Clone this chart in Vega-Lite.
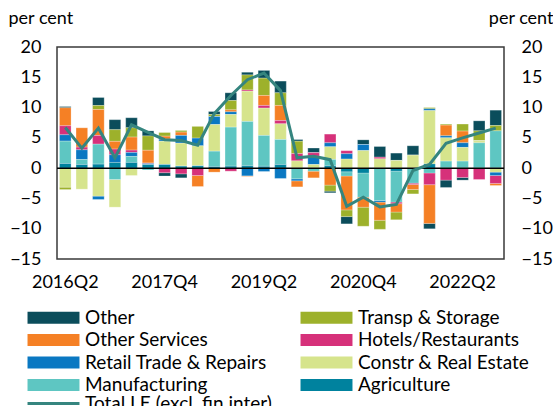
{
  "$schema": "https://vega.github.io/schema/vega-lite/v6.json",
  "width": 447,
  "height": 212,
  "autosize": {"type": "none"},
  "padding": {"left": 57, "top": 47, "right": 49, "bottom": 147},
  "config": {
    "font": "Lato",
    "view": {"stroke": "#3a3a3a", "strokeWidth": 1.5},
    "axis": {"labelFont": "Lato", "titleFont": "Lato", "labelColor": "black", "titleColor": "black", "grid": false}
  },
  "datasets": {
    "sectors": [
      {"q": "2016Q2", "Agriculture": 0.77, "Manufacturing": 3.69, "Constr & Real Estate": -3.14, "Retail Trade & Repairs": 1.05, "Hotels/Restaurants": 1.49, "Other Services": 2.97, "Transp & Storage": -0.39, "Other": 0.2},
      {"q": "2016Q3", "Agriculture": 0.6, "Manufacturing": 0.83, "Constr & Real Estate": -3.47, "Retail Trade & Repairs": 1.6, "Hotels/Restaurants": 0.44, "Other Services": 3.19, "Transp & Storage": 0, "Other": 0},
      {"q": "2016Q4", "Agriculture": 0.66, "Manufacturing": 3.3, "Constr & Real Estate": -4.62, "Retail Trade & Repairs": -0.55, "Hotels/Restaurants": 1.43, "Other Services": 4.29, "Transp & Storage": 0.66, "Other": 1.32},
      {"q": "2017Q1", "Agriculture": 0.94, "Manufacturing": -1.87, "Constr & Real Estate": -4.57, "Retail Trade & Repairs": 1.27, "Hotels/Restaurants": 0.94, "Other Services": 1.27, "Transp & Storage": 1.93, "Other": 1.65},
      {"q": "2017Q2", "Agriculture": 0.94, "Manufacturing": 0.99, "Constr & Real Estate": -1.21, "Retail Trade & Repairs": 0.66, "Hotels/Restaurants": 0.39, "Other Services": 2.15, "Transp & Storage": 1.54, "Other": 1.65},
      {"q": "2017Q3", "Agriculture": 0.6, "Manufacturing": -0.3, "Constr & Real Estate": 0, "Retail Trade & Repairs": 0.15, "Hotels/Restaurants": 0.1, "Other Services": 2.1, "Transp & Storage": 2.37, "Other": 0.83},
      {"q": "2017Q4", "Agriculture": 0.6, "Manufacturing": 0, "Constr & Real Estate": 3.85, "Retail Trade & Repairs": 0.33, "Hotels/Restaurants": -0.75, "Other Services": 0.5, "Transp & Storage": 0.6, "Other": -0.55},
      {"q": "2018Q1", "Agriculture": 0.33, "Manufacturing": 0, "Constr & Real Estate": 3.8, "Retail Trade & Repairs": 1.27, "Hotels/Restaurants": -0.94, "Other Services": 0.55, "Transp & Storage": 0.27, "Other": -0.66},
      {"q": "2018Q2", "Agriculture": 0.39, "Manufacturing": 0, "Constr & Real Estate": 3.3, "Retail Trade & Repairs": 1.27, "Hotels/Restaurants": -1.21, "Other Services": -1.82, "Transp & Storage": 1.93, "Other": 0},
      {"q": "2018Q3", "Agriculture": 0.27, "Manufacturing": 2.53, "Constr & Real Estate": 4.4, "Retail Trade & Repairs": 1.32, "Hotels/Restaurants": 0, "Other Services": -0.66, "Transp & Storage": 0.33, "Other": 0.5},
      {"q": "2018Q4", "Agriculture": 0.33, "Manufacturing": 6.44, "Constr & Real Estate": 2.09, "Retail Trade & Repairs": 0.44, "Hotels/Restaurants": -0.5, "Other Services": 0.33, "Transp & Storage": 1.54, "Other": 1.27},
      {"q": "2019Q1", "Agriculture": 0.39, "Manufacturing": 7.32, "Constr & Real Estate": 5.0, "Retail Trade & Repairs": -1.27, "Hotels/Restaurants": 0.2, "Other Services": -0.1, "Transp & Storage": 2.48, "Other": 0.44},
      {"q": "2019Q2", "Agriculture": 0.3, "Manufacturing": 5.1, "Constr & Real Estate": 4.51, "Retail Trade & Repairs": -0.55, "Hotels/Restaurants": 0.44, "Other Services": 1.65, "Transp & Storage": 2.86, "Other": 1.27},
      {"q": "2019Q3", "Agriculture": 0.6, "Manufacturing": 4.13, "Constr & Real Estate": 2.59, "Retail Trade & Repairs": -1.7, "Hotels/Restaurants": 0.55, "Other Services": 2.48, "Transp & Storage": 2.09, "Other": 1.93},
      {"q": "2019Q4", "Agriculture": 0, "Manufacturing": -1.76, "Constr & Real Estate": 1.2, "Retail Trade & Repairs": -0.33, "Hotels/Restaurants": 1.2, "Other Services": -1.0, "Transp & Storage": 2.05, "Other": 0.27},
      {"q": "2020Q1", "Agriculture": 0, "Manufacturing": -0.5, "Constr & Real Estate": 0.6, "Retail Trade & Repairs": 1.35, "Hotels/Restaurants": 0.6, "Other Services": -1.1, "Transp & Storage": 0, "Other": 0.77},
      {"q": "2020Q2", "Agriculture": 0.39, "Manufacturing": 1.05, "Constr & Real Estate": 2.09, "Retail Trade & Repairs": 0.66, "Hotels/Restaurants": 1.43, "Other Services": -2.8, "Transp & Storage": -1.0, "Other": -0.27},
      {"q": "2020Q3", "Agriculture": -0.6, "Manufacturing": -0.7, "Constr & Real Estate": 1.5, "Retail Trade & Repairs": 0.88, "Hotels/Restaurants": 0.5, "Other Services": -5.6, "Transp & Storage": -1.1, "Other": -1.2},
      {"q": "2020Q4", "Agriculture": -0.8, "Manufacturing": -4.0, "Constr & Real Estate": 2.9, "Retail Trade & Repairs": 1.0, "Hotels/Restaurants": 0, "Other Services": -1.65, "Transp & Storage": -3.14, "Other": 0.77},
      {"q": "2021Q1", "Agriculture": 0, "Manufacturing": -5.34, "Constr & Real Estate": 1.54, "Retail Trade & Repairs": -0.27, "Hotels/Restaurants": 0.27, "Other Services": -3.0, "Transp & Storage": -1.49, "Other": 1.76},
      {"q": "2021Q2", "Agriculture": -0.5, "Manufacturing": -5.1, "Constr & Real Estate": 1.27, "Retail Trade & Repairs": 0, "Hotels/Restaurants": -0.27, "Other Services": -1.38, "Transp & Storage": -1.27, "Other": 1.21},
      {"q": "2021Q3", "Agriculture": 0, "Manufacturing": -2.48, "Constr & Real Estate": 2.15, "Retail Trade & Repairs": 0, "Hotels/Restaurants": -0.22, "Other Services": -0.83, "Transp & Storage": -0.72, "Other": 1.54},
      {"q": "2021Q4", "Agriculture": 0.7, "Manufacturing": -0.8, "Constr & Real Estate": 8.8, "Retail Trade & Repairs": 0.3, "Hotels/Restaurants": -1.93, "Other Services": -6.4, "Transp & Storage": 0.2, "Other": -0.88},
      {"q": "2022Q1", "Agriculture": 0, "Manufacturing": 1.16, "Constr & Real Estate": 3.85, "Retail Trade & Repairs": 0.33, "Hotels/Restaurants": -1.98, "Other Services": 1.76, "Transp & Storage": 0.17, "Other": -1.21},
      {"q": "2022Q2", "Agriculture": 0, "Manufacturing": 1.16, "Constr & Real Estate": 2.26, "Retail Trade & Repairs": 0.77, "Hotels/Restaurants": -1.54, "Other Services": 1.93, "Transp & Storage": 1.16, "Other": -0.44},
      {"q": "2022Q3", "Agriculture": 0, "Manufacturing": 4.18, "Constr & Real Estate": 0.33, "Retail Trade & Repairs": 0, "Hotels/Restaurants": -1.87, "Other Services": 0, "Transp & Storage": 1.65, "Other": 1.65},
      {"q": "2022Q4", "Agriculture": 0, "Manufacturing": 6.16, "Constr & Real Estate": -0.66, "Retail Trade & Repairs": -0.55, "Hotels/Restaurants": -1.32, "Other Services": -0.33, "Transp & Storage": 0.88, "Other": 2.53}
    ],
    "total": [
      {"q": "2016Q2", "value": 6.7}, {"q": "2016Q3", "value": 3.3}, {"q": "2016Q4", "value": 6.6},
      {"q": "2017Q1", "value": 1.7}, {"q": "2017Q2", "value": 7.15}, {"q": "2017Q3", "value": 5.9},
      {"q": "2017Q4", "value": 4.7}, {"q": "2018Q1", "value": 4.57}, {"q": "2018Q2", "value": 3.8},
      {"q": "2018Q3", "value": 9.0}, {"q": "2018Q4", "value": 12.0}, {"q": "2019Q1", "value": 14.6},
      {"q": "2019Q2", "value": 15.7}, {"q": "2019Q3", "value": 12.8}, {"q": "2019Q4", "value": 1.7},
      {"q": "2020Q1", "value": 1.95}, {"q": "2020Q2", "value": 1.4}, {"q": "2020Q3", "value": -6.3},
      {"q": "2020Q4", "value": -4.8}, {"q": "2021Q1", "value": -6.4}, {"q": "2021Q2", "value": -6.0},
      {"q": "2021Q3", "value": -0.4}, {"q": "2021Q4", "value": 0.6}, {"q": "2022Q1", "value": 4.1},
      {"q": "2022Q2", "value": 5.0}, {"q": "2022Q3", "value": 5.8}, {"q": "2022Q4", "value": 6.6}
    ]
  },
  "layer": [
    {
      "data": {"name": "sectors"},
      "transform": [
        {"fold": ["Other", "Transp & Storage", "Other Services", "Hotels/Restaurants", "Retail Trade & Repairs", "Constr & Real Estate", "Manufacturing", "Agriculture"], "as": ["sector", "value"]},
        {"calculate": "indexof(['Agriculture','Manufacturing','Constr & Real Estate','Retail Trade & Repairs','Hotels/Restaurants','Other Services','Transp & Storage','Other'], datum.sector)", "as": "ord"}
      ],
      "mark": {"type": "bar", "stroke": "white", "strokeWidth": 0.4, "strokeOpacity": 0.6},
      "encoding": {
        "x": {"field": "q", "type": "ordinal", "scale": {"paddingInner": 0.3, "paddingOuter": 0.15},
          "axis": {"values": ["2016Q2", "2017Q4", "2019Q2", "2020Q4", "2022Q2"], "ticks": false, "domain": false, "labelAngle": 0, "labelFontSize": 18, "labelPadding": 14, "title": null}},
        "y": {"field": "value", "type": "quantitative", "stack": "zero", "scale": {"domain": [-15, 20], "nice": false},
          "axis": {"orient": "left", "values": [-15, -10, -5, 0, 5, 10, 15, 20], "ticks": false, "domain": false, "labelFontSize": 18, "labelPadding": 16,
            "title": "per cent", "titleAngle": 0, "titleAlign": "left", "titleBaseline": "middle", "titleX": -49, "titleY": -29, "titleFontSize": 18, "titleFontWeight": "normal"}},
        "color": {"field": "sector", "type": "nominal",
          "scale": {"domain": ["Other", "Transp & Storage", "Other Services", "Hotels/Restaurants", "Retail Trade & Repairs", "Constr & Real Estate", "Manufacturing", "Agriculture"],
            "range": ["#0B4D5B", "#9DB12B", "#F58025", "#D6317A", "#0A78C2", "#D6E48C", "#5EC6C2", "#00829E"]},
          "legend": {"orient": "none", "direction": "horizontal", "legendX": -13, "legendY": 261, "columns": 2, "title": null,
            "symbolType": "M-4.33,-1H4.33V1H-4.33Z", "symbolSize": 144, "symbolStrokeWidth": 0, "symbolOpacity": 1,
            "labelFont": "Lato", "labelFontSize": 19, "labelColor": "black", "labelOffset": 22, "rowPadding": 2.5, "columnPadding": 33, "labelLimit": 300}},
        "order": {"field": "ord", "type": "quantitative"}
      }
    },
    {
      "data": {"values": [{}]},
      "mark": {"type": "rule", "color": "black", "strokeWidth": 1.5},
      "encoding": {"y": {"datum": 0, "type": "quantitative", "scale": {"domain": [-15, 20], "nice": false}, "axis": null}}
    },
    {
      "data": {"name": "total"},
      "mark": {"type": "line", "strokeWidth": 3},
      "encoding": {
        "x": {"field": "q", "type": "ordinal",
          "axis": {"values": ["2016Q2", "2017Q4", "2019Q2", "2020Q4", "2022Q2"], "ticks": false, "domain": false, "labelAngle": 0, "labelFontSize": 18, "labelPadding": 14, "title": null}},
        "y": {"field": "value", "type": "quantitative", "scale": {"domain": [-15, 20], "nice": false},
          "axis": {"orient": "right", "values": [-15, -10, -5, 0, 5, 10, 15, 20], "ticks": false, "domain": false, "labelFontSize": 18, "labelPadding": 17,
            "title": "per cent", "titleAngle": 0, "titleAlign": "right", "titleBaseline": "middle", "titleX": 49, "titleY": -29, "titleFontSize": 18, "titleFontWeight": "normal"}},
        "stroke": {"datum": "Total LE (excl. fin inter)", "type": "nominal", "scale": {"range": ["#35857F"]},
          "legend": {"orient": "none", "legendX": -13, "legendY": 347, "title": null, "symbolType": "M-4.33,0H4.33", "symbolSize": 144, "symbolStrokeWidth": 3,
            "labelFont": "Lato", "labelFontSize": 19, "labelColor": "black", "labelOffset": 22, "labelLimit": 300}}
      }
    }
  ],
  "resolve": {"axis": {"y": "independent"}}
}
